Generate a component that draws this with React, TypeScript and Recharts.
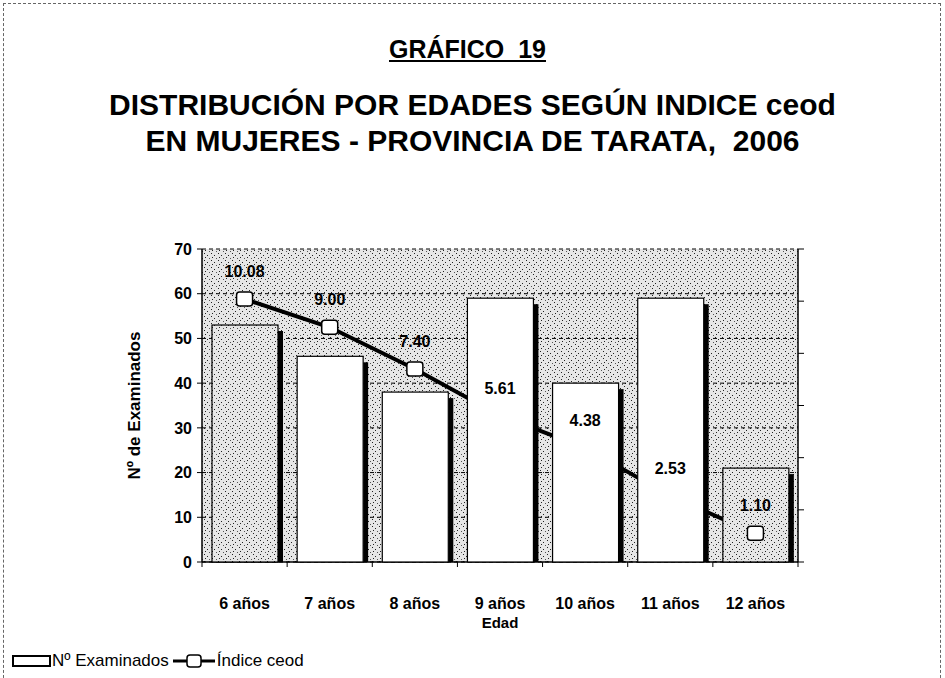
import React from "react";
import {
  ComposedChart,
  Bar,
  Line,
  XAxis,
  YAxis,
  CartesianGrid,
  Legend,
  LabelList,
} from "recharts";

// datos
const edades = ["6 años", "7 años", "8 años", "9 años", "10 años", "11 años", "12 años"];
const examinados = [53, 46, 38, 59, 40, 59, 21];
const indiceCeod = [10.08, 9.0, 7.4, 5.61, 4.38, 2.53, 1.1];
const ticksIzq = [0, 10, 20, 30, 40, 50, 60, 70];
const ticksDer = [0, 2, 4, 6, 8, 10, 12];
const barrasTramadas = ["6 años", "12 años"];

const data = edades.map((edad, i) => ({
  edad,
  examinados: examinados[i],
  ceod: indiceCeod[i],
}));

const FONT = '"Liberation Sans", Arial, sans-serif';
const W = 945;
const H = 678;
const PLOT_L = 202;
const PLOT_R = 798;
const PLOT_T = 249;
const PLOT_B = 562;
const ANCHO_CAT = (PLOT_R - PLOT_L) / edades.length;

function BarraSombra(props: any) {
  const { x, y, width, height } = props;
  if (!height || height <= 0) return null;
  const edad = props.payload?.edad ?? props.edad;
  const fill = barrasTramadas.includes(edad) ? "url(#trama)" : "#fff";
  return (
    <g>
      <rect x={x + width} y={y + 6} width={5} height={height - 6} fill="#000" />
      <rect x={x} y={y} width={width} height={height} fill={fill} stroke="#000" strokeWidth={1.2} />
    </g>
  );
}

function Marcador(props: any) {
  const { cx, cy, index } = props;
  if (cx == null || cy == null) return <g key={index} />;
  return (
    <rect
      key={index}
      x={cx - 8}
      y={cy - 7}
      width={16}
      height={14}
      rx={3}
      fill="#fff"
      stroke="#000"
      strokeWidth={1.5}
    />
  );
}

// el marcador de 12 años se ve por encima de la barra tramada
function MarcadorFinal(props: any) {
  const { viewBox, index } = props;
  if (index !== edades.length - 1) return null;
  const px = viewBox ? viewBox.x + (viewBox.width || 0) / 2 : props.x;
  const py = viewBox ? viewBox.y + (viewBox.height || 0) / 2 : props.y;
  if (px == null || py == null) return null;
  return <Marcador cx={px} cy={py} index={index} />;
}

function TickEdad(props: any) {
  const { x, y, payload, index } = props;
  return (
    <g>
      {index === 0 && (
        <line x1={x - ANCHO_CAT / 2} x2={x - ANCHO_CAT / 2} y1={y} y2={y + 5} stroke="#000" />
      )}
      <line x1={x + ANCHO_CAT / 2} x2={x + ANCHO_CAT / 2} y1={y} y2={y + 5} stroke="#000" />
      <text
        x={x}
        y={y + 47}
        textAnchor="middle"
        fontSize={16}
        fontWeight="bold"
        fontFamily={FONT}
        fill="#000"
      >
        {payload.value}
      </text>
    </g>
  );
}

function Leyenda() {
  return (
    <div style={{ display: "flex", alignItems: "center", fontFamily: FONT, fontSize: 17, color: "#000" }}>
      <svg width={40} height={14}>
        <rect x={1} y={2} width={37} height={10} fill="#fff" stroke="#000" strokeWidth={2} />
      </svg>
      <span style={{ marginRight: 4 }}>Nº Examinados</span>
      <svg width={42} height={16}>
        <line x1={0} x2={42} y1={8} y2={8} stroke="#000" strokeWidth={3} />
        <rect x={14} y={2} width={14} height={12} rx={3} fill="#fff" stroke="#000" strokeWidth={1.5} />
      </svg>
      <span style={{ marginLeft: 2 }}>Índice ceod</span>
    </div>
  );
}

export default function App() {
  return (
    <div
      style={{
        position: "absolute",
        left: 0,
        top: 0,
        width: W,
        height: H,
        background: "#fff",
        fontFamily: FONT,
      }}
    >
      <div
        style={{
          position: "absolute",
          left: 3,
          top: 3,
          width: 938,
          height: 690,
          border: "1px dashed #666",
          boxSizing: "border-box",
        }}
      />
      <div
        style={{
          position: "absolute",
          left: 0,
          top: 35,
          width: W - 10,
          textAlign: "center",
          fontSize: 25,
          fontWeight: "bold",
          textDecoration: "underline",
        }}
      >
        GRÁFICO&nbsp; 19
      </div>
      <div
        style={{
          position: "absolute",
          left: 0,
          top: 87,
          width: W,
          textAlign: "center",
          fontSize: 30,
          fontWeight: "bold",
          lineHeight: "36px",
        }}
      >
        DISTRIBUCIÓN POR EDADES SEGÚN INDICE ceod
        <br />
        EN MUJERES - PROVINCIA DE TARATA,&nbsp; 2006
      </div>

      <ComposedChart
        width={W}
        height={H}
        data={data}
        margin={{ top: PLOT_T, right: W - PLOT_R - 20, bottom: H - PLOT_B - 68, left: PLOT_L - 95 }}
      >
        <defs>
          <pattern id="trama" width="7" height="7" patternUnits="userSpaceOnUse">
            <rect width="7" height="7" fill="#e6e6e6" />
            <rect x="1" y="1" width="1" height="1" fill="#222" />
            <rect x="4" y="3" width="1" height="1" fill="#222" />
            <rect x="2" y="5" width="1" height="1" fill="#222" />
            <rect x="6" y="6" width="1" height="1" fill="#555" />
          </pattern>
        </defs>
        <CartesianGrid
          yAxisId="izq"
          vertical={false}
          stroke="#000"
          strokeDasharray="4 3"
          fill="url(#trama)"
        />
        <XAxis
          dataKey="edad"
          height={68}
          tickLine={false}
          tickSize={0}
          tickMargin={0}
          tick={<TickEdad />}
          axisLine={{ stroke: "#000", strokeWidth: 1.5 }}
          label={{
            value: "Edad",
            position: "insideBottom",
            offset: 2,
            style: { fontSize: 15, fontWeight: "bold", fill: "#000", fontFamily: FONT },
          }}
        />
        <YAxis
          yAxisId="izq"
          width={95}
          domain={[0, 70]}
          ticks={ticksIzq}
          interval={0}
          tickSize={5}
          tickMargin={5}
          axisLine={{ stroke: "#000", strokeWidth: 1.5 }}
          tickLine={{ stroke: "#000" }}
          tick={{ fontSize: 16, fontWeight: "bold", fill: "#000", fontFamily: FONT }}
          label={{
            value: "Nº de Examinados",
            angle: -90,
            position: "insideLeft",
            offset: 27,
            style: { textAnchor: "middle", fontSize: 17, fontWeight: "bold", fill: "#000", fontFamily: FONT },
          }}
        />
        <YAxis
          yAxisId="der"
          orientation="right"
          width={20}
          domain={[0, 12]}
          ticks={ticksDer}
          interval={0}
          tickSize={6}
          axisLine={{ stroke: "#000", strokeWidth: 1.5 }}
          tickLine={{ stroke: "#000" }}
          tick={() => <g />}
        />
        <Line
          yAxisId="der"
          dataKey="ceod"
          stroke="#000"
          strokeWidth={4}
          dot={(p: any) => <Marcador key={p.index} {...p} />}
          activeDot={false}
          isAnimationActive={false}
          legendType="none"
          zIndex={250}
        />
        <Bar
          yAxisId="izq"
          dataKey="examinados"
          barSize={66}
          shape={<BarraSombra />}
          isAnimationActive={false}
          zIndex={1500}
        />
        <Line
          yAxisId="der"
          dataKey="ceod"
          stroke="none"
          dot={false}
          activeDot={false}
          isAnimationActive={false}
          legendType="none"
        >
          <LabelList dataKey="ceod" content={<MarcadorFinal />} />
          <LabelList
            dataKey="ceod"
            position="top"
            offset={22}
            formatter={(v: any) => Number(v).toFixed(2)}
            style={{ fontSize: 16, fontWeight: "bold", fill: "#000", fontFamily: FONT }}
          />
        </Line>
        <Legend
          layout="horizontal"
          verticalAlign="middle"
          align="center"
          content={<Leyenda />}
          wrapperStyle={{ left: 12, top: 651, width: 440 }}
        />
      </ComposedChart>
    </div>
  );
}
